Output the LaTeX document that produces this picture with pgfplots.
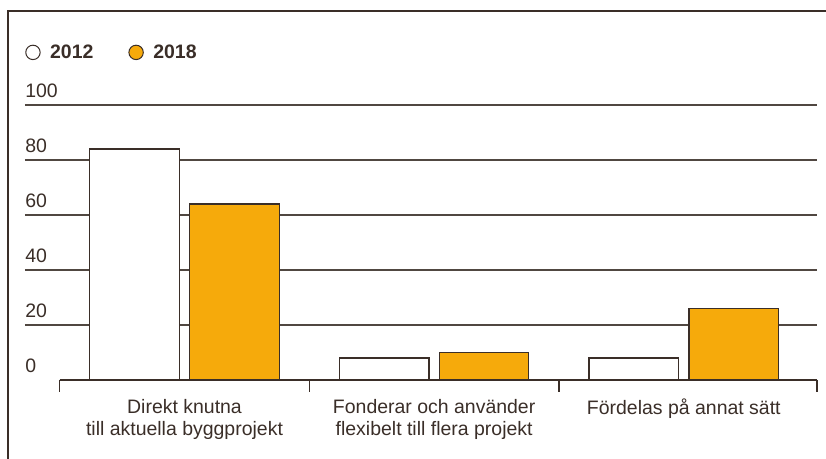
\documentclass[border=0pt]{standalone}
\usepackage{pgfplots}
\pgfplotsset{compat=1.18}
\usepackage{fontspec}
\setmainfont{Liberation Sans}
\definecolor{dark}{RGB}{58,46,40}
\definecolor{gridc}{RGB}{80,71,65}
\definecolor{orng}{RGB}{246,170,11}
\begin{document}
\begin{tikzpicture}
\useasboundingbox (0,0) rectangle (619.5pt,-344.25pt);
\draw[dark, line width=1.1pt] (6pt,-344.25pt) -- (6pt,-8.25pt) -- (619.5pt,-8.25pt);
\begin{axis}[
  at={(18.75pt,-285pt)}, anchor=south west,
  scale only axis, width=594pt, height=206.25pt,
  xmin=-0.6389, xmax=2.5336, ymin=0, ymax=100,
  clip=false,
  axis line style={draw=none},
  major tick length=0pt,
  font=\fontsize{14.6pt}{17pt}\selectfont,
  /pgf/number format/assume math mode=true,
  ytick={20,40,60,80,100},
  extra y ticks={0}, extra y tick style={grid=none},
  ymajorgrids, grid style={gridc, line width=0.9pt},
  yticklabel style={anchor=south west, inner sep=0pt, yshift=5.5pt, text=dark},
  xtick={0,1,2},
  xticklabels={{Direkt knutna\\till aktuella byggprojekt},{Fonderar och använder\\flexibelt till flera projekt},{Fördelas på annat sätt}},
  xticklabel style={align=center, anchor=north, inner sep=0pt, yshift=-14pt, text=dark},
  legend style={at={(axis description cs:0,1.1913)}, anchor=west, draw=none, fill=none, inner sep=0pt,
    font=\fontsize{14.6pt}{17pt}\selectfont\bfseries, text=dark, legend columns=2,
    /tikz/every even column/.append style={column sep=24.2pt}},
  legend image code/.code={\draw[#1,draw=dark,line width=0.75pt] (5.4pt,0pt) circle (5.4pt);
    \path[draw=none,fill=none] (0pt,0pt) -- (16.3pt,0pt);},
]
\addplot[ybar, bar width=0.359, bar shift=-0.2, fill=white, draw=dark, line width=0.9pt]
  coordinates {(0,84) (1,8) (2,8)};
\addlegendentry{2012}
\addplot[ybar, bar width=0.359, bar shift=0.2, fill=orng, draw=dark, line width=0.9pt]
  coordinates {(0,64) (1,10) (2,26)};
\addlegendentry{2018}
\draw[dark, line width=0.9pt] (axis cs:-0.5,0) -- (axis cs:2.5336,0);
\pgfplotsinvokeforeach{-0.5,0.5,1.5,2.5336}{
  \draw[dark, line width=0.9pt] (axis cs:#1,0) -- ++(0pt,-9pt);
}
\end{axis}
\end{tikzpicture}
\end{document}
